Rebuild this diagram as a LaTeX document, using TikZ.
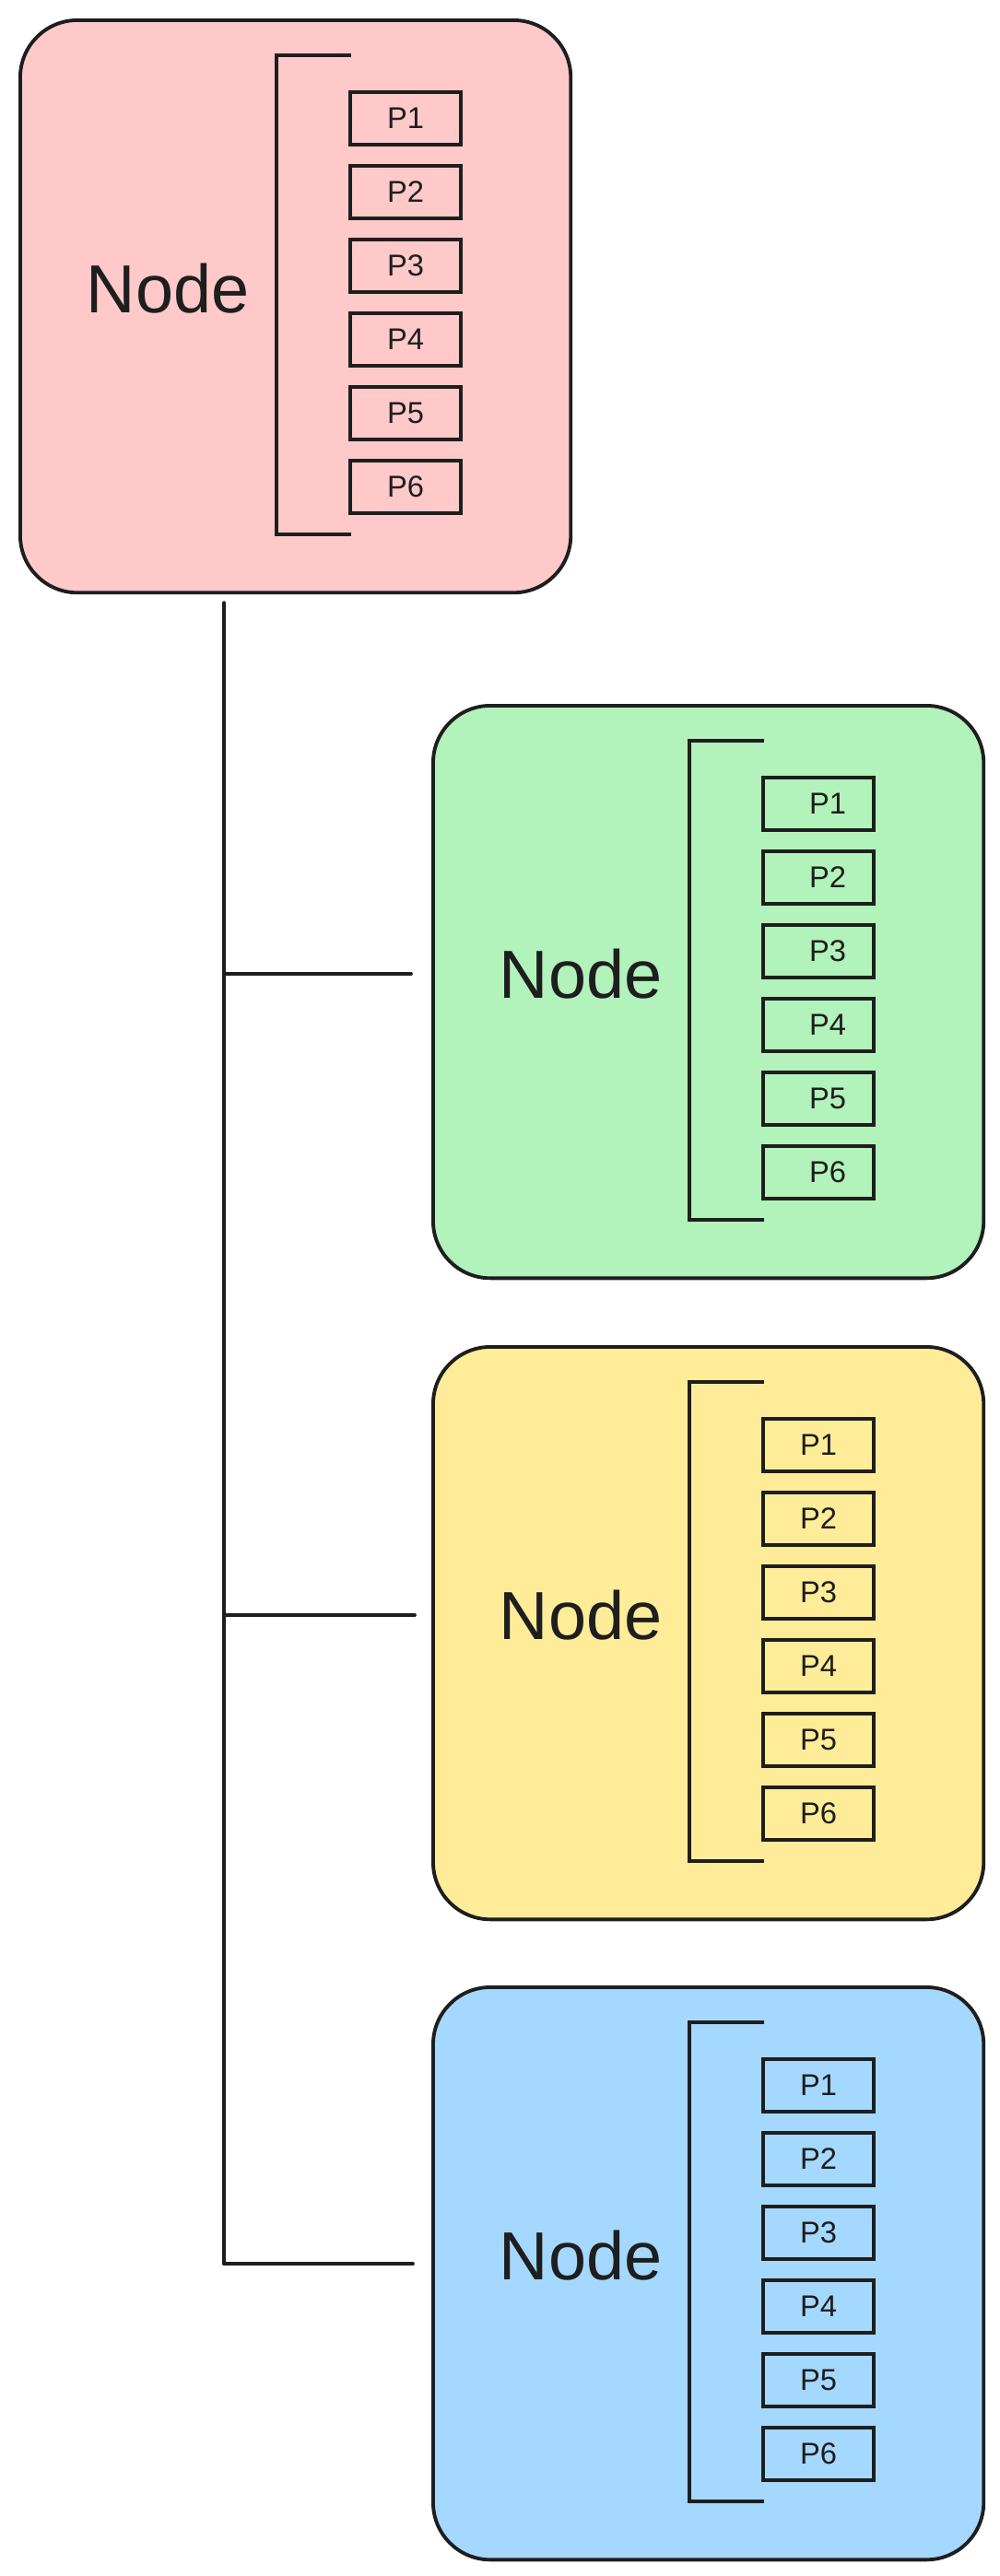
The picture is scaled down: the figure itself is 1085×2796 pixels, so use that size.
\documentclass[tikz,border=0pt]{standalone}
\usepackage{fontspec}
\setmainfont{Liberation Sans}
\usetikzlibrary{positioning,calc}
\definecolor{ndedge}{HTML}{1E1E1E}
\definecolor{ndred}{HTML}{FFC9C9}
\definecolor{ndgreen}{HTML}{B2F2BB}
\definecolor{ndyellow}{HTML}{FFEC99}
\definecolor{ndblue}{HTML}{A5D8FF}
\tikzset{
  card/.style={
    draw=ndedge, line width=1.1pt, rounded corners=0.62cm,
    minimum width=5.97cm, minimum height=6.21cm, inner sep=0pt,
    anchor=north west
  },
  title/.style={font=\fontsize{21}{25}\selectfont, text=ndedge, inner sep=0pt},
  proc/.style={
    draw=ndedge, line width=1.05pt, minimum width=1.2cm, minimum height=0.57cm,
    inner sep=0pt, font=\fontsize{9.3}{11}\selectfont, text=ndedge
  },
  brk/.style={draw=ndedge, line width=1.05pt},
  link/.style={draw=ndedge, line width=1.05pt, line cap=round}
}

\begin{document}
\begin{tikzpicture}[x=0.01cm, y=-0.01cm]
  \useasboundingbox (0,0) rectangle (1085,2796);
  % top node
  \node[card, fill=ndred] (red) at (20,20) {};
  \node[title] (redtitle) at ($(red.north west)+(162,293)$) {Node};
  \draw[brk] ($(red.north west)+(361,40)$) -| ($(red.north west)+(280,560)$) -- ++(81,0);
  \foreach \i in {1,...,6}
    \node[proc] (red-p\i) at ($(red.north west)+(420,28.5+80*\i)$) {P\i};
  % green node
  \node[card, fill=ndgreen] (green) at (468,764) {};
  \node[title] (greentitle) at ($(green.north west)+(162,293)$) {Node};
  \draw[brk] ($(green.north west)+(361,40)$) -| ($(green.north west)+(280,560)$) -- ++(81,0);
  \foreach \i in {1,...,6}
    \node[proc] (green-p\i) at ($(green.north west)+(420,28.5+80*\i)$) {\hspace{2mm}P\i};
  % yellow node
  \node[card, fill=ndyellow] (yellow) at (468,1460) {};
  \node[title] (yellowtitle) at ($(yellow.north west)+(162,293)$) {Node};
  \draw[brk] ($(yellow.north west)+(361,40)$) -| ($(yellow.north west)+(280,560)$) -- ++(81,0);
  \foreach \i in {1,...,6}
    \node[proc] (yellow-p\i) at ($(yellow.north west)+(420,28.5+80*\i)$) {P\i};
  % blue node
  \node[card, fill=ndblue] (blue) at (468,2155) {};
  \node[title] (bluetitle) at ($(blue.north west)+(162,293)$) {Node};
  \draw[brk] ($(blue.north west)+(361,40)$) -| ($(blue.north west)+(280,560)$) -- ++(81,0);
  \foreach \i in {1,...,6}
    \node[proc] (blue-p\i) at ($(blue.north west)+(420,28.5+80*\i)$) {P\i};
  % tree lines
  \coordinate (trunk) at ($(red.south west)+(223,9)$);
  \coordinate (trunkend) at ($(trunk |- bluetitle)+(0,9)$);
  \draw[link] (trunk) -- (trunkend);
  \draw[link] (trunk |- greentitle) -- ($(green.west |- greentitle)+(-22,0)$);
  \draw[link] (trunk |- yellowtitle) -- ($(yellow.west |- yellowtitle)+(-18,0)$);
  \draw[link] (trunkend) -- ($(blue.west |- trunkend)+(-20,0)$);
\end{tikzpicture}
\end{document}
